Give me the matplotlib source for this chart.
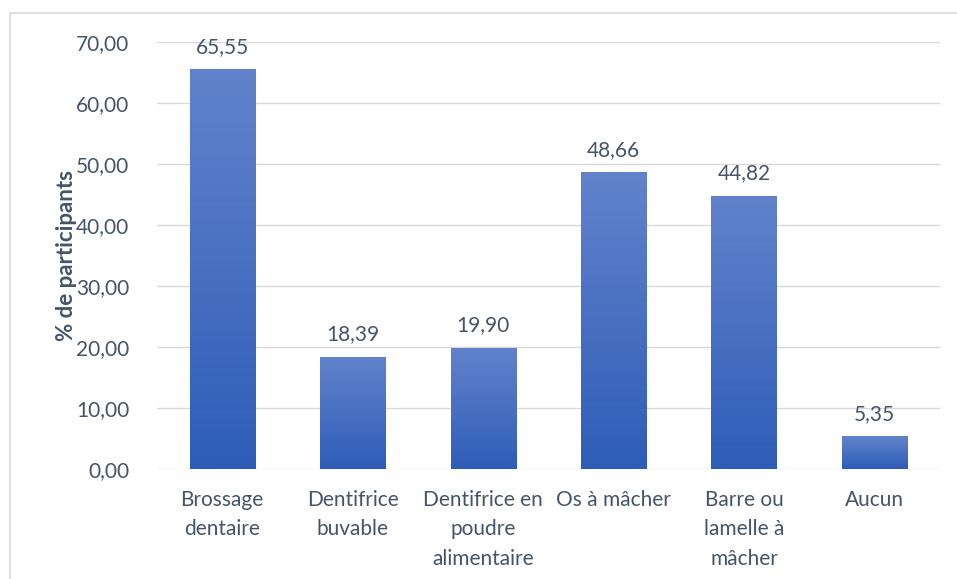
import numpy as np
import matplotlib.pyplot as plt
from matplotlib.patches import Rectangle
from matplotlib.colors import LinearSegmentedColormap

categories = ["Brossage\ndentaire", "Dentifrice\nbuvable", "Dentifrice en\npoudre\nalimentaire",
              "Os à mâcher", "Barre ou\nlamelle à\nmâcher", "Aucun"]
values = [65.55, 18.39, 19.90, 48.66, 44.82, 5.35]
yticks = [0, 10, 20, 30, 40, 50, 60, 70]

text_col = '#44546A'
grid_col = '#D9D9D9'
plt.rcParams['font.family'] = ['Lato', 'DejaVu Sans']

fig = plt.figure(figsize=(9.57, 5.79), dpi=100)
ax = fig.add_axes([0.164, 0.19, 0.818, 0.7375])

# light frame round the chart, as in the source
fig.patches.append(Rectangle((10 / 957, -0.1), 1.1, 1 - 13 / 579 + 0.1,
                             transform=fig.transFigure, fill=False,
                             edgecolor=grid_col, linewidth=1.2))

x = np.arange(len(values))
bars = ax.bar(x, values, width=0.5, color='none', zorder=3)

cmap = LinearSegmentedColormap.from_list('bar', ['#2E5DB8', '#6283CB'])
grad = np.linspace(0, 1, 256).reshape(-1, 1)
for b in bars:
    x0, y0 = b.get_x(), b.get_y()
    im = ax.imshow(grad, cmap=cmap, origin='lower', aspect='auto', zorder=3,
                   extent=[x0, x0 + b.get_width(), y0, y0 + b.get_height()])
    im.set_clip_path(b)

for xi, v in zip(x, values):
    ax.annotate(f"{v:.2f}".replace('.', ','), (xi, v), xytext=(0, 9),
                textcoords='offset points', ha='center', va='bottom',
                fontsize=15, color=text_col)

ax.set_xlim(-0.5, len(values) - 0.5)
ax.set_ylim(0, 70)
ax.set_yticks(yticks)
ax.set_yticklabels([f"{t:.2f}".replace('.', ',') for t in yticks])
ax.set_xticks(x)
ax.set_xticklabels(categories, linespacing=1.6)
ax.tick_params(length=0, labelsize=15, colors=text_col)
ax.tick_params(axis='y', pad=20)
ax.tick_params(axis='x', pad=15)
ax.grid(axis='y', color=grid_col, linewidth=1, zorder=0)
ax.set_axisbelow(True)
for s in ax.spines.values():
    s.set_visible(False)
ax.set_ylabel('% de participants', fontsize=16, fontweight='bold', color=text_col)
ax.yaxis.set_label_coords(-0.102, 0.5)

plt.savefig('out.png', dpi=100)
